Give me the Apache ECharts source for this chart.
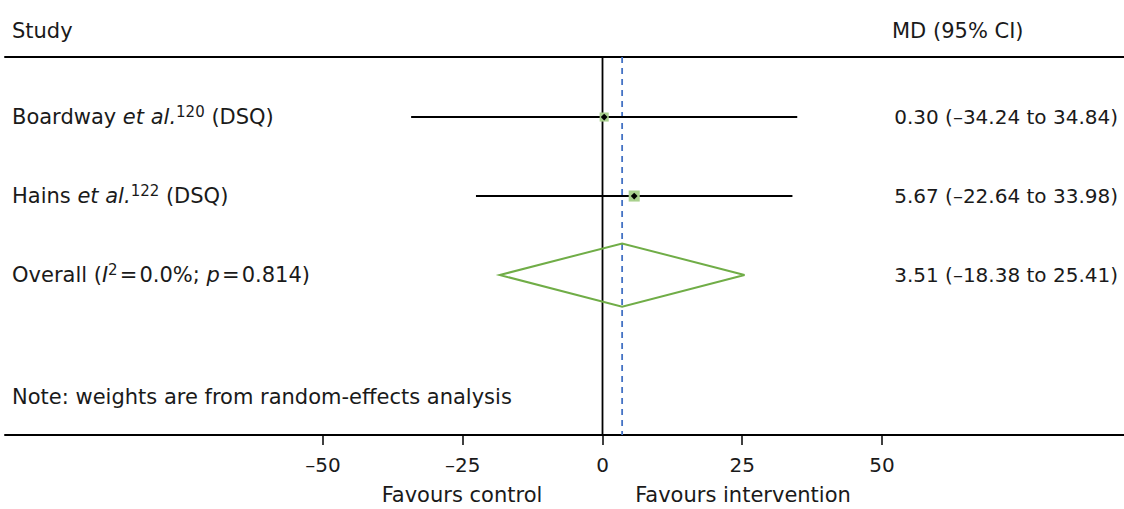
<!DOCTYPE html>
<html>
<head>
<meta charset="utf-8">
<script src="https://cdn.jsdelivr.net/npm/echarts@6/dist/echarts.min.js"></script>
<style>
  html, body { margin: 0; padding: 0; background: #ffffff; }
  #chart { width: 1124px; height: 509px; }
</style>
</head>
<body>
<div id="chart"></div>
<script>
// Study rows (rich-text labels: italic "et al." and superscript reference numbers)
const studyLabels = ['Boardway {i|et al.}{sup|120} (DSQ)', 'Hains {i|et al.}{sup|122} (DSQ)'];
const md = [0.30, 5.67];
const lower = [-34.24, -22.64];
const upper = [34.84, 33.98];
const weights = [40.2, 59.8];

// Pooled random-effects estimate
const pooledLabel = 'Overall ({i|I}{sup|2}\u200A=\u200A0.0%; {i|p}\u200A=\u200A0.814)';
const pooledMd = 3.51;
const pooledLower = -18.38;
const pooledUpper = 25.41;

const xTicks = [-50, -25, 0, 25, 50];
const headerLeft = 'Study';
const headerRight = 'MD (95% CI)';
const noteText = 'Note: weights are from random-effects analysis';
const favours = ['Favours control', 'Favours intervention'];

const FONT = '"DejaVu Sans", "Noto Sans", sans-serif';
const TEXT = '#1a1a1a';
const FS = 20;      // numbers (estimates, tick labels)
const FS_L = 21;    // wording (headers, study names, notes)

const fmt = v => (v < 0 ? '\u2013' : '') + Math.abs(v).toFixed(2);
const ciText = (m, lo, hi) => `${fmt(m)} (${fmt(lo)} to ${fmt(hi)})`;

// Row positions on an inverted value axis: rows 1..3, note below
const yMin = 0.24, yMax = 5.025;
const xMin = -106.9, xMax = 93.3;

const rows = [];
for (let i = 0; i < md.length; i++) rows.push([i + 1, md[i], lower[i], upper[i], weights[i], 0]);
rows.push([md.length + 1, pooledMd, pooledLower, pooledUpper, 100, 1]);

const rich = {
  i: { fontStyle: 'italic', fontSize: FS_L, fontFamily: FONT, fill: TEXT },
  sup: { fontSize: 15, fontFamily: FONT, verticalAlign: 'top', lineHeight: 25, fill: TEXT }
};

function renderRow(params, api) {
  const row = api.value(0), m = api.value(1), lo = api.value(2), hi = api.value(3);
  const w = api.value(4), kind = api.value(5);
  const pL = api.coord([lo, row]);
  const pR = api.coord([hi, row]);
  const pM = api.coord([m, row]);
  const children = [];
  const idx = params.dataIndex;
  const labelText = kind === 1 ? pooledLabel : studyLabels[idx];
  const rightText = kind === 1 ? ciText(pooledMd, pooledLower, pooledUpper) : ciText(md[idx], lower[idx], upper[idx]);

  if (kind === 0) {
    // confidence interval, weight box and point estimate
    children.push({
      type: 'line', shape: { x1: pL[0], y1: pL[1], x2: pR[0], y2: pR[1] },
      style: { stroke: '#000', lineWidth: 2 }
    });
    const side = 1.43 * Math.sqrt(w);
    children.push({
      type: 'rect', shape: { x: pM[0] - side / 2, y: pM[1] - side / 2, width: side, height: side },
      style: { fill: '#a9d18e' }
    });
    const d = 3.4;
    children.push({
      type: 'polygon',
      shape: { points: [[pM[0] - d, pM[1]], [pM[0], pM[1] - d], [pM[0] + d, pM[1]], [pM[0], pM[1] + d]] },
      style: { fill: '#000' }
    });
  } else {
    // pooled estimate diamond
    const top = api.coord([m, row - 0.4]);
    const bot = api.coord([m, row + 0.4]);
    children.push({
      type: 'polygon',
      shape: { points: [[pL[0], pL[1]], [top[0], top[1]], [pR[0], pR[1]], [bot[0], bot[1]]] },
      style: { fill: 'none', stroke: '#70ad47', lineWidth: 2 }
    });
  }
  children.push({
    type: 'text',
    style: { x: 12, y: pM[1], text: labelText, rich: rich, fill: TEXT, font: `${FS_L}px ${FONT}`, align: 'left', verticalAlign: 'middle' }
  });
  children.push({
    type: 'text',
    style: { x: 1118, y: pM[1], text: rightText, fill: TEXT, font: `${FS}px ${FONT}`, align: 'right', verticalAlign: 'middle' }
  });
  return { type: 'group', children };
}

const chart = echarts.init(document.getElementById('chart'), null, { renderer: 'svg' });
chart.setOption({
  animation: false,
  backgroundColor: '#ffffff',
  grid: { left: 5, right: 0, top: 57, bottom: 74 },
  xAxis: [
    {
      type: 'value', min: xMin, max: xMax, position: 'bottom',
      axisLine: { show: true, onZero: false, lineStyle: { color: '#000', width: 2 } },
      axisTick: { show: true, customValues: xTicks, length: 10, lineStyle: { color: '#000', width: 1.5 } },
      axisLabel: {
        show: true, customValues: xTicks, margin: 20, fontSize: FS, fontFamily: FONT, color: TEXT,
        formatter: v => (v < 0 ? '\u2013' + Math.abs(v) : String(v))
      },
      splitLine: { show: false }
    },
    {
      type: 'value', min: xMin, max: xMax, position: 'top',
      axisLine: { show: true, onZero: false, lineStyle: { color: '#000', width: 2 } },
      axisTick: { show: false }, axisLabel: { show: false }, splitLine: { show: false }
    }
  ],
  yAxis: { type: 'value', inverse: true, min: yMin, max: yMax, show: false, splitLine: { show: false } },
  series: [
    {
      // line of no effect
      type: 'line', data: [[0, yMin], [0, yMax]], symbol: 'none',
      lineStyle: { color: '#000', width: 1.8 }, silent: true
    },
    {
      // pooled estimate reference line
      type: 'line', data: [[pooledMd, yMin], [pooledMd, yMax]], symbol: 'none',
      lineStyle: { color: '#4472c4', width: 1.8, type: [6, 5] }, silent: true
    },
    {
      type: 'custom', renderItem: renderRow, data: rows,
      encode: { x: [1, 2, 3], y: 0 }, silent: true, z: 5
    }
  ],
  graphic: [
    { type: 'text', x: 12, y: 31, style: { text: headerLeft, font: `${FS_L}px ${FONT}`, fill: TEXT, verticalAlign: 'middle' } },
    { type: 'text', x: 892, y: 31, style: { text: headerRight, font: `${FS_L}px ${FONT}`, fill: TEXT, verticalAlign: 'middle' } },
    { type: 'text', x: 12, y: 397, style: { text: noteText, font: `${FS_L}px ${FONT}`, fill: TEXT, verticalAlign: 'middle' } },
    { type: 'text', x: 462, y: 495, style: { text: favours[0], font: `${FS_L}px ${FONT}`, fill: TEXT, align: 'center', verticalAlign: 'middle' } },
    { type: 'text', x: 743, y: 495, style: { text: favours[1], font: `${FS_L}px ${FONT}`, fill: TEXT, align: 'center', verticalAlign: 'middle' } }
  ]
});
</script>
</body>
</html>
